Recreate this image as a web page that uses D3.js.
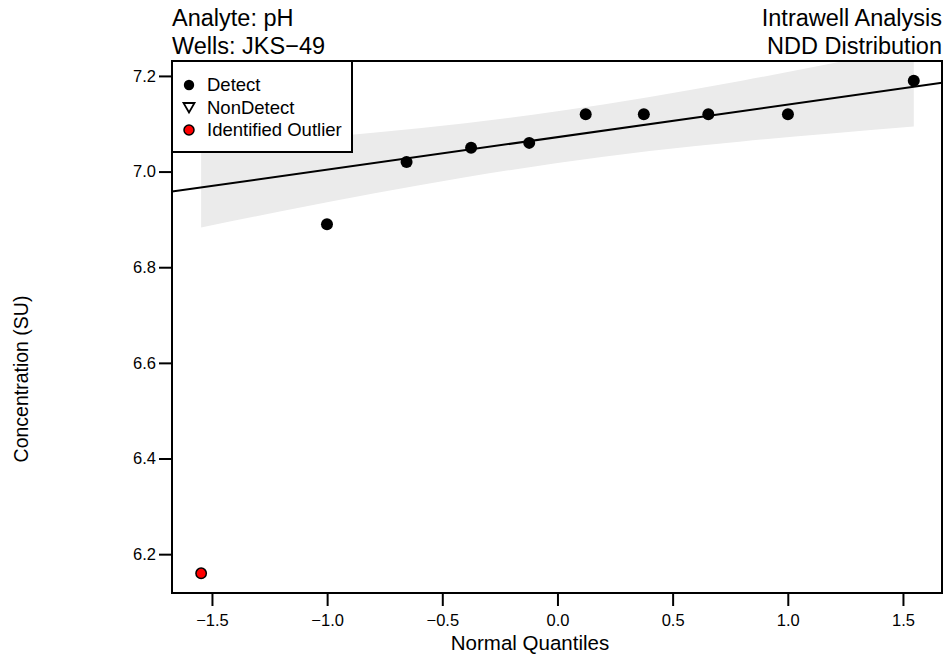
<!DOCTYPE html>
<html><head><meta charset="utf-8">
<script src="https://cdn.jsdelivr.net/npm/d3@7"></script>
<style>body{margin:0;background:#fff;} text{font-family:"Liberation Sans",Arial,sans-serif;}</style>
</head><body>
<svg id="c" width="944" height="658"></svg>
<script>
// Data
const quantiles = [-1.547, -1.0006, -0.655, -0.375, -0.1226, 0.1226, 0.375, 0.655, 1.0006, 1.547];
const concentrations = [6.16, 6.89, 7.02, 7.05, 7.06, 7.12, 7.12, 7.12, 7.12, 7.19];
const outlierFlags = [true, false, false, false, false, false, false, false, false, false];
const fitIntercept = 7.072;
const fitSlope = 0.068;
const bandQ = [-1.547, -1.2, -0.8, -0.4, 0, 0.4, 0.8, 1.2, 1.547];
const bandLower = [6.883, 6.917, 6.954, 6.988, 7.018, 7.043, 7.063, 7.080, 7.094];
const bandUpper = [7.050, 7.064, 7.081, 7.101, 7.126, 7.156, 7.190, 7.227, 7.261];
const xTicks = [-1.5, -1.0, -0.5, 0.0, 0.5, 1.0, 1.5];
const yTicks = [6.2, 6.4, 6.6, 6.8, 7.0, 7.2];
const legendLabels = ["Detect", "NonDetect", "Identified Outlier"];

const svg = d3.select("#c");
const L = 172, R = 942, T = 61, B = 593;
const x = d3.scaleLinear().domain([-1.6735, 1.6695]).range([L, R]);
const y = d3.scaleLinear().domain([6.1188, 7.2312]).range([B, T]);
const fmt = d => d.toFixed(1).replace("-", "\u2212");

svg.append("defs").append("clipPath").attr("id","clip")
  .append("rect").attr("x",L).attr("y",T).attr("width",R-L).attr("height",B-T);
const g = svg.append("g").attr("clip-path","url(#clip)");

// band
const bandData = bandQ.map((q,i)=>({q, lo: bandLower[i], hi: bandUpper[i]}));
g.append("path").datum(bandData)
  .attr("d", d3.area().x(d=>x(d.q)).y0(d=>y(d.lo)).y1(d=>y(d.hi)).curve(d3.curveMonotoneX))
  .attr("fill","#ebebeb");

// fit line
const xd = x.domain();
g.append("line")
  .attr("x1", x(xd[0])).attr("y1", y(fitIntercept + fitSlope*xd[0]))
  .attr("x2", x(xd[1])).attr("y2", y(fitIntercept + fitSlope*xd[1]))
  .attr("stroke","#000").attr("stroke-width",2);

// points
g.selectAll("circle.pt").data(quantiles.map((q,i)=>({q, v: concentrations[i], o: outlierFlags[i]})))
  .enter().append("circle")
  .attr("cx", d=>x(d.q)).attr("cy", d=>y(d.v))
  .attr("r", d=>d.o?5.2:6)
  .attr("fill", d=>d.o?"#ff0000":"#000")
  .attr("stroke","#000").attr("stroke-width", d=>d.o?1.5:0);

// axes
const xAxis = d3.axisBottom(x).tickValues(xTicks).tickFormat(fmt).tickSize(13).tickSizeOuter(0);
const gx = svg.append("g").attr("transform",`translate(0,${B})`).call(xAxis);
gx.select(".domain").remove();
gx.selectAll("line").attr("stroke-width",2);
gx.selectAll("text").attr("font-size",16.5).attr("dy","1.02em").attr("fill","#000");

const yAxis = d3.axisLeft(y).tickValues(yTicks).tickFormat(fmt).tickSize(13).tickSizeOuter(0);
const gy = svg.append("g").attr("transform",`translate(${L},0)`).call(yAxis);
gy.select(".domain").remove();
gy.selectAll("line").attr("stroke-width",2);
gy.selectAll("text").attr("font-size",16.5).attr("x",-16).attr("fill","#000");

// box
svg.append("rect").attr("x",L).attr("y",T).attr("width",R-L).attr("height",B-T)
  .attr("fill","none").attr("stroke","#000").attr("stroke-width",2);

// legend
const lg = svg.append("g");
lg.append("rect").attr("x",L).attr("y",T).attr("width",180).attr("height",91)
  .attr("fill","#fff").attr("stroke","#000").attr("stroke-width",2);
const ly = [85, 107.5, 130];
lg.append("circle").attr("cx",189).attr("cy",ly[0]).attr("r",5.2).attr("fill","#000");
lg.append("path").attr("d",`M183.5,${ly[1]-4.5} L194.5,${ly[1]-4.5} L189,${ly[1]+5} Z`)
  .attr("fill","none").attr("stroke","#000").attr("stroke-width",1.8);
lg.append("circle").attr("cx",189).attr("cy",ly[2]).attr("r",5).attr("fill","#ff0000").attr("stroke","#000").attr("stroke-width",1.5);
legendLabels.forEach((t,i)=>{
  lg.append("text").attr("x",207).attr("y",ly[i]).attr("dy","0.35em").attr("font-size",18.5).text(t);
});

// titles
svg.append("text").attr("x",172).attr("y",26).attr("font-size",23.5).text("Analyte: pH");
svg.append("text").attr("x",172).attr("y",54).attr("font-size",23.5).text("Wells: JKS\u221249");
svg.append("text").attr("x",942).attr("y",26).attr("font-size",23.5).attr("text-anchor","end").text("Intrawell Analysis");
svg.append("text").attr("x",942).attr("y",54).attr("font-size",23.5).attr("text-anchor","end").text("NDD Distribution");

// axis titles
svg.append("text").attr("x",530).attr("y",650).attr("font-size",20.5).attr("text-anchor","middle").text("Normal Quantiles");
svg.append("text").attr("transform",`translate(28,379) rotate(-90)`).attr("font-size",19.5).attr("text-anchor","middle").text("Concentration (SU)");
</script>
</body></html>
